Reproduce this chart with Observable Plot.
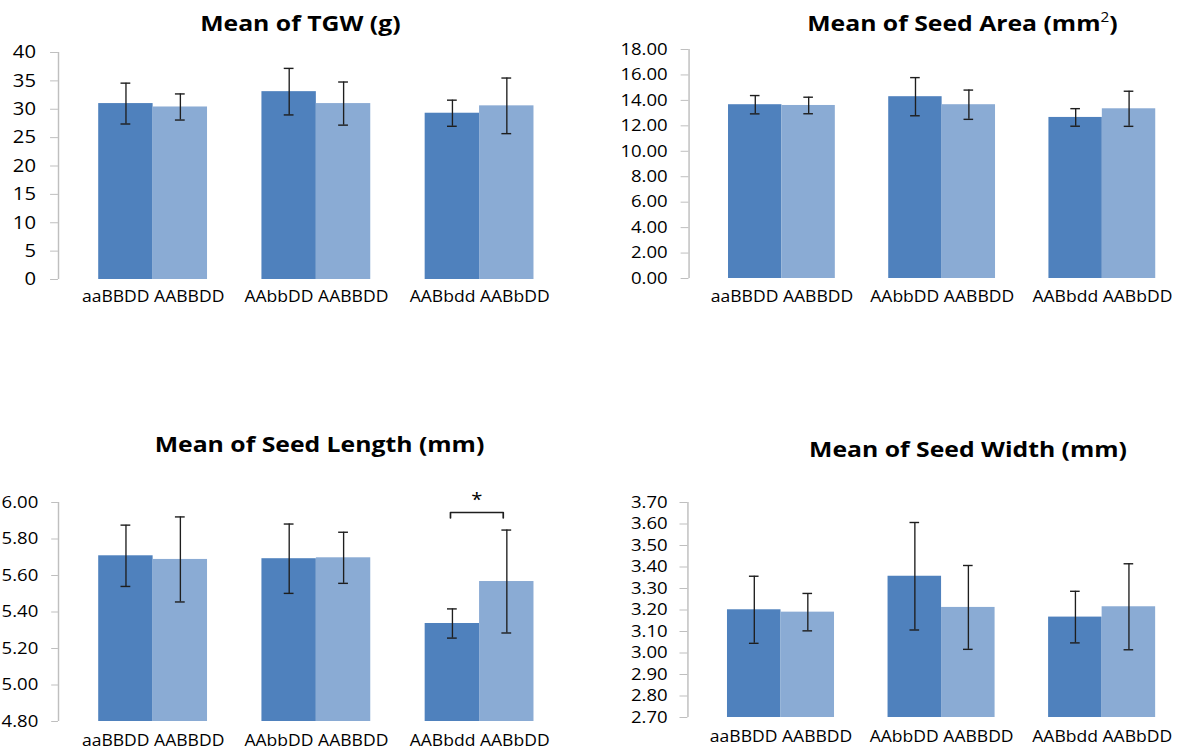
<!DOCTYPE html>
<html>
<head>
<meta charset="utf-8">
<script src="https://cdn.jsdelivr.net/npm/d3@7"></script>
<script src="https://cdn.jsdelivr.net/npm/@observablehq/plot@0.6"></script>
<style>
  html, body { margin: 0; padding: 0; background: #fff; }
  #page { position: relative; width: 1181px; height: 751px; overflow: hidden; background: #fff; }
  #root { position: absolute; left: 0; top: 0; width: 1050px; height: 751px; transform: scaleX(1.125); transform-origin: 0 0; }
  .panel { position: absolute; }
  .panel svg { max-width: none !important; }
  .title { position: absolute; font-family: "Open Sans", sans-serif; font-weight: 700; font-size: 22px; color: #000; white-space: nowrap; transform: translateX(-50%); line-height: 1; }
  .title sup { font-size: 0.62em; font-weight: 400; position: relative; top: -0.1em; }
</style>
</head>
<body>
<div id="page"><div id="root"></div></div>
<script>
// ---- data ----
const groups = ["aaBBDD AABBDD", "AAbbDD AABBDD", "AABbdd AABbDD"];
const series = ["mutant", "control"];

const tgwMutant = [31.0, 33.1, 29.3];
const tgwControl = [30.4, 31.0, 30.6];
const tgwMutantErr = [3.6, 4.1, 2.3];
const tgwControlErr = [2.3, 3.8, 4.9];

const areaMutant = [13.66, 14.29, 12.66];
const areaControl = [13.60, 13.66, 13.34];
const areaMutantErr = [0.72, 1.50, 0.69];
const areaControlErr = [0.65, 1.15, 1.38];

const lengthMutant = [5.708, 5.692, 5.337];
const lengthControl = [5.688, 5.697, 5.567];
const lengthMutantErr = [0.168, 0.19, 0.08];
const lengthControlErr = [0.233, 0.14, 0.282];

const widthMutant = [3.201, 3.357, 3.167];
const widthControl = [3.190, 3.212, 3.215];
const widthMutantErr = [0.156, 0.25, 0.12];
const widthControlErr = [0.087, 0.195, 0.2];

const tgwTicks = [0, 5, 10, 15, 20, 25, 30, 35, 40];
const areaTicks = [0, 2, 4, 6, 8, 10, 12, 14, 16, 18];
const lengthTicks = [4.8, 5.0, 5.2, 5.4, 5.6, 5.8, 6.0];
const widthTicks = [2.7, 2.8, 2.9, 3.0, 3.1, 3.2, 3.3, 3.4, 3.5, 3.6, 3.7];

// significance annotation (seed length, third group)
const sigGroup = 2;
const sigLabel = "*";

// ---- styling ----
const darkBlue = "#4f81bd";
const lightBlue = "#8aabd4";
const axisGray = "#bfbfbf";
const errColor = "#1e1e1e";
const barW = 1 / 3;
const capHalf = 0.03;
const xDomain = [-0.58, 2.58];

function makeRows(m, c, me, ce) {
  const out = [];
  groups.forEach((g, i) => {
    out.push({gi: i, si: 0, mean: m[i], err: me[i]});
    out.push({gi: i, si: 1, mean: c[i], err: ce[i]});
  });
  return out;
}
const center = d => d.gi + (d.si === 0 ? -barW / 2 : barW / 2);

const root = document.getElementById("root");

function panel(cfg) {
  const data = makeRows(...cfg.values);
  const base = cfg.yDomain[0];
  const marks = [
    Plot.rectY(data, {
      x1: d => d.gi + (d.si - 1) * barW,
      x2: d => d.gi + d.si * barW,
      y1: () => base,
      y2: "mean",
      fill: d => series[d.si]
    }),
    Plot.ruleX(data, {x: center, y1: d => d.mean - d.err, y2: d => d.mean + d.err, stroke: errColor, strokeWidth: 1.2}),
    Plot.ruleY(data, {y: d => d.mean - d.err, x1: d => center(d) - capHalf, x2: d => center(d) + capHalf, stroke: errColor, strokeWidth: 1.4}),
    Plot.ruleY(data, {y: d => d.mean + d.err, x1: d => center(d) - capHalf, x2: d => center(d) + capHalf, stroke: errColor, strokeWidth: 1.4}),
    Plot.ruleX([xDomain[0]], {stroke: axisGray, strokeWidth: 1.3}),
    Plot.axisY({ticks: cfg.ticks, tickFormat: cfg.fmt, tickSize: cfg.tickSize, tickPadding: cfg.tickPadding, stroke: axisGray, fill: "#000", label: null, fontSize: cfg.yFont}),
    Plot.axisX({ticks: [0, 1, 2], tickFormat: i => groups[i], tickSize: 0, tickPadding: cfg.xPad, label: null, fill: "#000", fontSize: 15.6})
  ];
  if (cfg.extra) marks.push(...cfg.extra(data));
  const svg = Plot.plot({
    width: cfg.width,
    height: cfg.height,
    marginLeft: cfg.ml,
    marginRight: cfg.mr,
    marginTop: cfg.mt,
    marginBottom: cfg.mb,
    style: {fontFamily: "'Open Sans', sans-serif", fontSize: "16.5px", background: "transparent", overflow: "visible", color: "#000"},
    x: {domain: xDomain},
    y: {domain: cfg.yDomain},
    color: {domain: series, range: [darkBlue, lightBlue]},
    marks
  });
  const wrap = document.createElement("div");
  wrap.className = "panel";
  wrap.style.left = cfg.left + "px";
  wrap.style.top = cfg.top + "px";
  wrap.style.width = cfg.width + "px";
  wrap.style.height = cfg.height + "px";
  wrap.appendChild(svg);
  root.appendChild(wrap);

  const t = document.createElement("div");
  t.className = "title";
  t.innerHTML = cfg.title;
  t.style.left = cfg.titleX + "px";
  t.style.top = cfg.titleY + "px";
  root.appendChild(t);
}

const f2 = d3.format(".2f");

panel({
  title: "Mean of TGW (g)", titleX: 267, titleY: 11,
  left: 0, top: 40, width: 520, height: 280, ml: 51.5, mr: 10, mt: 12, mb: 41,
  yDomain: [0, 40], ticks: tgwTicks, fmt: d3.format("d"), tickSize: 7, tickPadding: 13, yFont: 18, xPad: 11,
  values: [tgwMutant, tgwControl, tgwMutantErr, tgwControlErr]
});
panel({
  title: "Mean of Seed Area (mm<sup>2</sup>)", titleX: 855.5, titleY: 11,
  left: 524.5, top: 40, width: 547, height: 280, ml: 87, mr: 10, mt: 9, mb: 42,
  yDomain: [0, 18], ticks: areaTicks, fmt: f2, tickSize: 7, tickPadding: 12, yFont: 16.5, xPad: 12,
  values: [areaMutant, areaControl, areaMutantErr, areaControlErr]
});
panel({
  title: "Mean of Seed Length (mm)", titleX: 284, titleY: 432,
  left: 0, top: 470, width: 520, height: 281, ml: 51.5, mr: 10, mt: 32, mb: 30,
  yDomain: [4.8, 6.0], ticks: lengthTicks, fmt: f2, tickSize: 6, tickPadding: 12, yFont: 16.5, xPad: 13,
  values: [lengthMutant, lengthControl, lengthMutantErr, lengthControlErr],
  extra: () => {
    const xa = sigGroup - barW / 2 - 0.012, xb = sigGroup + barW / 2 - 0.022;
    const yTop = 5.945, yEnd = 5.915;
    return [
      Plot.line([[xa, yEnd], [xa, yTop], [xb, yTop], [xb, yEnd]], {stroke: errColor, strokeWidth: 1.5}),
      Plot.text([sigLabel], {x: () => (xa + xb) / 2, y: () => yTop, text: d => d, dy: -12, fontSize: 18, fill: "#000"})
    ];
  }
});
panel({
  title: "Mean of Seed Width (mm)", titleX: 860.5, titleY: 437,
  left: 524.5, top: 470, width: 547, height: 281, ml: 86, mr: 10, mt: 32, mb: 34,
  yDomain: [2.7, 3.7], ticks: widthTicks, fmt: f2, tickSize: 7, tickPadding: 11, yFont: 16.5, xPad: 13,
  values: [widthMutant, widthControl, widthMutantErr, widthControlErr]
});
</script>
</body>
</html>
